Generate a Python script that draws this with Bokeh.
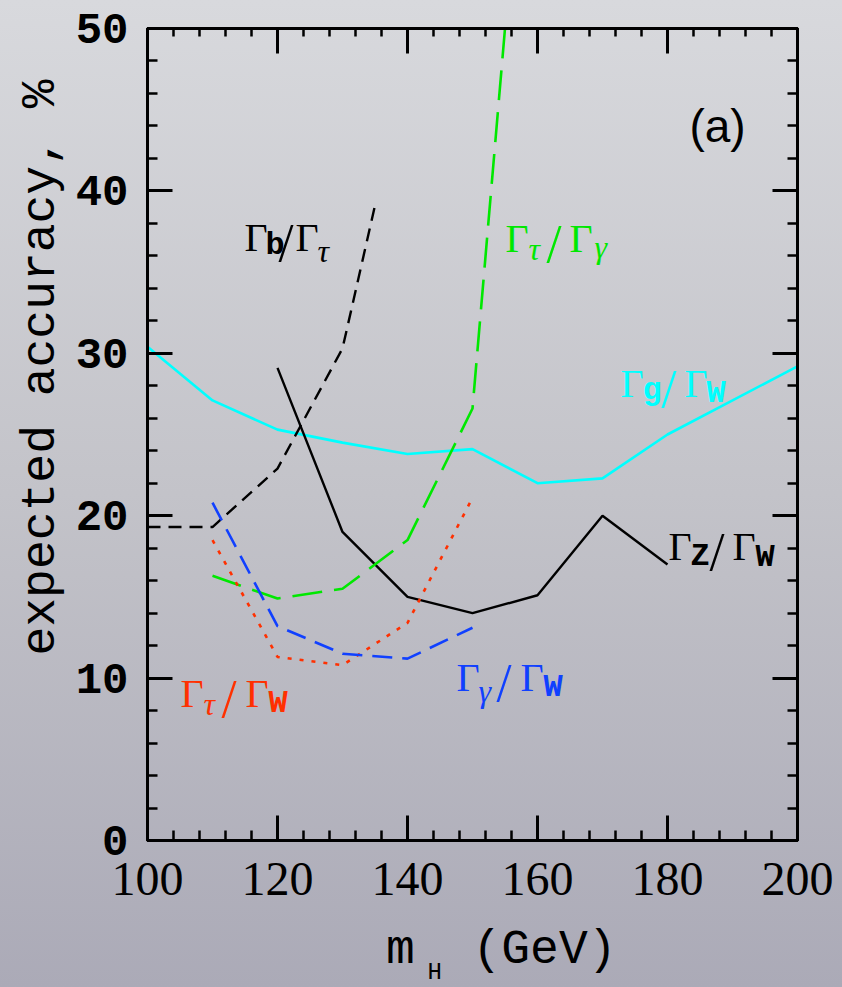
from bokeh.plotting import figure
from bokeh.models import Range1d, FixedTicker, LinearAxis, Label, Title, CustomJSTickFormatter
from bokeh.embed import file_html
from bokeh.resources import INLINE

# ---------------- data ----------------
x_ticks = [100, 120, 140, 160, 180, 200]
y_ticks = [0, 10, 20, 30, 40, 50]

mh_g_w = [100, 110, 120, 130, 140, 150, 160, 170, 180, 200]
acc_g_w = [30.4, 27.1, 25.3, 24.5, 23.8, 24.1, 22.0, 22.3, 25.0, 29.2]

mh_z_w = [120, 130, 140, 150, 160, 170, 180]
acc_z_w = [29.1, 19.0, 15.0, 14.0, 15.1, 20.0, 17.0]

mh_b_tau = [100, 110, 120, 130, 135]
acc_b_tau = [19.3, 19.3, 22.9, 30.3, 39.1]

mh_tau_gam = [110, 120, 130, 140, 150, 155]
acc_tau_gam = [16.3, 14.9, 15.5, 18.5, 26.6, 50.0]

mh_tau_w = [110, 120, 130, 140, 150]
acc_tau_w = [18.5, 11.3, 10.8, 13.4, 21.1]

mh_gam_w = [110, 120, 130, 140, 150]
acc_gam_w = [20.8, 13.2, 11.5, 11.2, 13.1]

# ---------------- figure ----------------
FX0, FX1, FY0, FY1 = 147, 797, 840, 28   # frame edges in page pixels

p = figure(frame_width=FX1 - FX0, frame_height=FY0 - FY1,
           min_border_left=FX0, min_border_right=842 - FX1,
           min_border_top=FY1, min_border_bottom=987 - FY0,
           x_range=Range1d(100, 200), y_range=Range1d(0, 50),
           output_backend="svg", toolbar_location=None)
p.styles = {"margin": "0px",
            "background": "linear-gradient(to bottom, #d8d9dd 0%, #c3c3c9 50%, #abaab7 100%)"}
p.background_fill_color = None
p.border_fill_color = None
p.outline_line_color = "black"
p.outline_line_width = 3
p.xgrid.visible = False
p.ygrid.visible = False

xt = FixedTicker(ticks=x_ticks, minor_ticks=list(range(100, 201, 4)))
yt = FixedTicker(ticks=y_ticks, minor_ticks=list(range(0, 51, 2)))

def style_axis(ax, ticker, minor_len):
    ax.ticker = ticker
    ax.axis_line_width = 3
    ax.major_tick_in = 25
    ax.major_tick_out = 0
    ax.minor_tick_in = minor_len
    ax.minor_tick_out = 0
    ax.major_tick_line_width = 3
    ax.minor_tick_line_width = 2.5

SERIF = "Liberation Serif"
MONO = "Liberation Mono"

bx = p.xaxis[0]
style_axis(bx, xt, 10)
bx.major_label_text_font = SERIF
bx.major_label_text_font_size = "48px"
bx.major_label_standoff = 22
bx.major_label_text_color = "black"
bx.axis_label = "\u00a0\u00a0m\u00a0\u00a0(GeV)"
bx.axis_label_text_font = MONO
bx.axis_label_text_font_size = "48px"
bx.axis_label_text_font_style = "normal"
bx.axis_label_text_color = "black"
bx.axis_label_standoff = 25

ly = p.yaxis[0]
style_axis(ly, yt, 10)
ly.major_label_text_font = MONO
ly.major_label_text_font_style = "bold"
ly.major_label_text_font_size = "44px"
ly.major_label_standoff = 19
ly.major_label_text_color = "black"

blank = CustomJSTickFormatter(code="return ''")
top = LinearAxis(formatter=blank, major_label_text_font_size="1px", major_label_standoff=0)
style_axis(top, xt, 8)
p.add_layout(top, "above")
right = LinearAxis(formatter=blank, major_label_text_font_size="1px", major_label_standoff=0)
style_axis(right, yt, 10)
p.add_layout(right, "right")

# ---------------- curves ----------------
p.line(mh_g_w, acc_g_w, line_color="#00ffff", line_width=2.6)
p.line(mh_z_w, acc_z_w, line_color="black", line_width=2.4)
p.line(mh_b_tau, acc_b_tau, line_color="black", line_width=2.4, line_dash="13 8")
p.line(mh_tau_gam, acc_tau_gam, line_color="#00e800", line_width=2.6, line_dash="30 12")
p.line(mh_tau_w, acc_tau_w, line_color="#ff3000", line_width=2.6, line_dash="4 8")
p.line(mh_gam_w, acc_gam_w, line_color="#1040ff", line_width=2.6, line_dash="20 10")

# ---------------- texts ----------------
def dx(px):
    return 100 + (px - FX0) * 100.0 / (FX1 - FX0)

def dy(py):
    return 50.0 * (FY0 - py) / (FY0 - FY1)

def piece(px, py, text, color, font, size, style="normal", align="left"):
    p.add_layout(Label(x=dx(px), y=dy(py), text=text, text_color=color,
                       text_font=font, text_font_size=f"{size}px",
                       text_font_style=style, text_align=align,
                       text_baseline="alphabetic"))

def sub(px, py, text, color, greek):
    if greek:
        piece(px, py, text, color, SERIF, 32, "italic")
    else:
        piece(px, py, text, color, MONO, 32, "bold")

def ratio(xs, base, s1, g1, b1, s2, g2, b2, color):
    x_g1, x_s1, x_sl, x_g2, x_s2 = xs
    piece(x_g1, base, "\u0393", color, SERIF, 40)
    sub(x_s1, b1, s1, color, g1)
    piece(x_sl, base + 5, "/", color, SERIF, 54)
    piece(x_g2, base, "\u0393", color, SERIF, 40)
    sub(x_s2, b2, s2, color, g2)

ratio((244, 265, 278, 295, 317), 237, "b", False, 245, "\u03c4", True, 250, "black")
ratio((505, 528, 546, 569, 594), 238, "\u03c4", True, 248, "\u03b3", True, 246, "#00e800")
ratio((620, 642, 661, 684, 706), 383, "g", False, 390, "W", False, 393, "#00ffff")
ratio((668, 690, 709, 732, 755), 546, "Z", False, 556, "W", False, 557, "black")
ratio((180, 203, 221, 245, 268), 693, "\u03c4", True, 703, "W", False, 703, "#ff3000")
ratio((456, 478, 496, 520, 543), 677, "\u03b3", True, 690, "W", False, 687, "#1040ff")

piece(717, 125, "(a)", "black", "Liberation Sans", 46, align="center")

# y axis title (in the side panel so that it is not clipped)
ytitle = Title(text="expected accuracy, %", align="left", offset=185, standoff=10,
               text_font=MONO, text_font_size="48px", text_font_style="normal",
               text_color="black")
p.add_layout(ytitle, "left")

# subscript H of the x axis title
xsub = Title(text="H", align="left", offset=280, standoff=-42, vertical_align="top",
             text_font=MONO, text_font_size="24px", text_font_style="normal",
             text_color="black")
p.add_layout(xsub, "below")

open("out.html", "w").write(file_html(p, INLINE))
